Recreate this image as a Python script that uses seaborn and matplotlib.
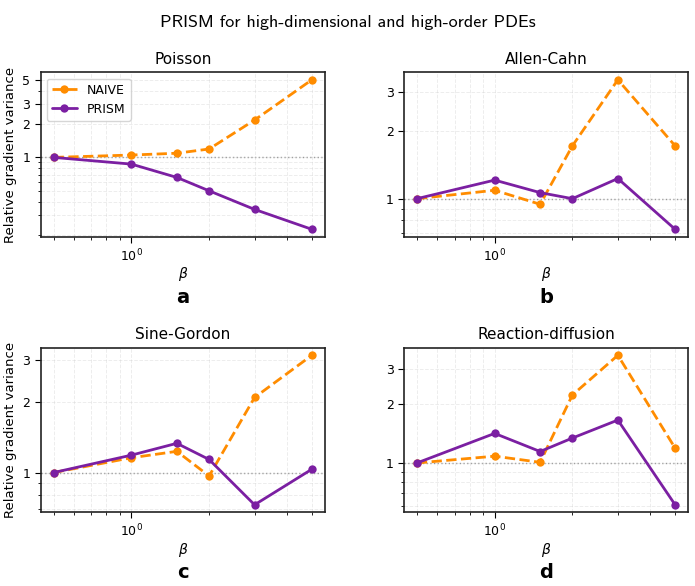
import numpy as np
import pandas as pd
import matplotlib
matplotlib.use("Agg")
import matplotlib.pyplot as plt
from matplotlib.ticker import FixedLocator, ScalarFormatter, NullFormatter
import seaborn as sns

sns.set_style("white")
plt.rcParams.update({"text.color": "black", "axes.labelcolor": "black",
                     "xtick.color": "black", "ytick.color": "black"})

beta = [0.5, 1.0, 1.5, 2.0, 3.0, 5.0]
titles = ["Poisson", "Allen-Cahn", "Sine-Gordon", "Reaction-diffusion"]
letters = ["a", "b", "c", "d"]

naive = {
    "Poisson": [1.0, 1.05, 1.09, 1.19, 2.17, 5.0],
    "Allen-Cahn": [1.0, 1.09, 0.944, 1.72, 3.39, 1.72],
    "Sine-Gordon": [1.0, 1.155, 1.23, 0.967, 2.08, 3.14],
    "Reaction-diffusion": [1.0, 1.083, 1.008, 2.22, 3.54, 1.19],
}
prism = {
    "Poisson": [1.0, 0.87, 0.66, 0.50, 0.34, 0.225],
    "Allen-Cahn": [1.0, 1.21, 1.064, 1.0, 1.23, 0.73],
    "Sine-Gordon": [1.0, 1.185, 1.33, 1.136, 0.73, 1.033],
    "Reaction-diffusion": [1.0, 1.415, 1.144, 1.34, 1.655, 0.612],
}

c_naive = "#ff8c00"
c_prism = "#7b1fa2"

fig, axs = plt.subplots(2, 2, figsize=(6.95, 5.86), dpi=100)
fig.subplots_adjust(left=0.0586, right=0.99, top=0.8766, bottom=0.1258,
                    wspace=0.279, hspace=0.675)

for i, (ax, name) in enumerate(zip(axs.flatten(), titles)):
    df = pd.DataFrame({"beta": beta, "NAIVE": naive[name], "PRISM": prism[name]})
    sns.lineplot(data=df, x="beta", y="NAIVE", ax=ax, color=c_naive, lw=2,
                 ls="--", marker="o", markersize=6, markeredgewidth=0,
                 label="NAIVE")
    sns.lineplot(data=df, x="beta", y="PRISM", ax=ax, color=c_prism, lw=2,
                 ls="-", marker="o", markersize=6, markeredgewidth=0,
                 label="PRISM")
    ax.axhline(1.0, color="gray", ls=":", lw=1, alpha=0.8, zorder=0)
    ax.set_xscale("log")
    ax.set_yscale("log")
    ax.yaxis.set_major_locator(FixedLocator([1, 2, 3, 5]))
    ax.yaxis.set_major_formatter(ScalarFormatter())
    ax.yaxis.set_minor_formatter(NullFormatter())
    ax.grid(True, which="both", ls="--", lw=0.7, alpha=0.35)
    ax.tick_params(axis="both", which="both", left=True, bottom=True, labelsize=9)
    ax.tick_params(which="major", length=4)
    ax.tick_params(which="minor", length=2.5)
    for sp in ax.spines.values():
        sp.set_color("#222222")
        sp.set_linewidth(1.2)
    ax.set_title(name, fontsize=11)
    ax.set_xlabel(r"$\beta$", fontsize=10, labelpad=1)
    if i % 2 == 0:
        ax.set_ylabel("Relative gradient variance", fontsize=9.5)
    else:
        ax.set_ylabel("")
    if i == 0:
        ax.legend(loc="upper left", fontsize=9, frameon=True)
    else:
        ax.get_legend().remove()
    ax.text(0.5, -0.367, letters[i], transform=ax.transAxes, ha="center",
            va="center", fontsize=14, fontweight="bold")

fig.suptitle("PRISM for high-dimensional and high-order PDEs", y=0.974,
             fontsize=13, family=["cmss10", "DejaVu Sans"])

fig.savefig("out.png", dpi=100)
